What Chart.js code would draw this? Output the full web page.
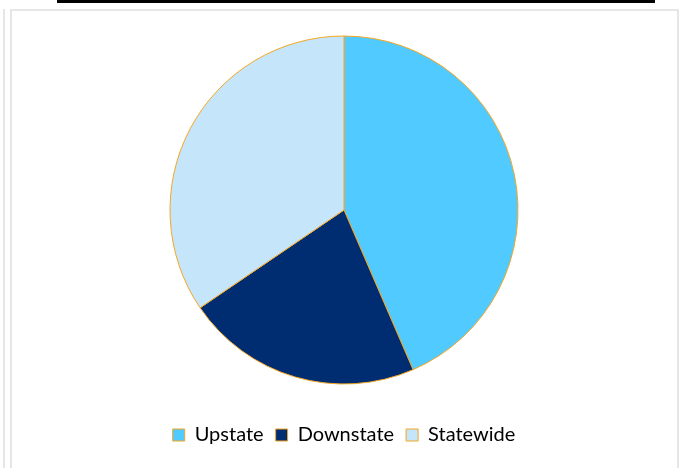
<!DOCTYPE html>
<html>
<head>
<meta charset="utf-8">
<script src="https://cdn.jsdelivr.net/npm/chart.js@4"></script>
<style>
  html, body { margin: 0; padding: 0; background: #fff; }
  body { width: 683px; height: 468px; position: relative; overflow: hidden; }
  #topbar { position: absolute; left: 57px; top: 0; width: 598px; height: 3px; background: #000; }
  #outer { position: absolute; left: 3px; top: 9px; width: 2px; height: 470px; background: #e6e6e6; }
  #frame { position: absolute; left: 10px; top: 9px; width: 665px; height: 470px; border: 2px solid #e6e6e6; }
  #wrap { position: absolute; left: 0; top: 0; width: 683px; height: 468px; }
</style>
</head>
<body>
<div id="topbar"></div>
<div id="outer"></div>
<div id="frame"></div>
<div id="wrap"><canvas id="pie-chart"></canvas></div>
<script>
const regions = ['Upstate', 'Downstate', 'Statewide'];
const shares = [43.5, 22, 34.5];
const sliceColors = ['#51CBFF', '#002D72', '#C5E5FB'];

const pieCtx = document.getElementById('pie-chart').getContext('2d');

new Chart(pieCtx, {
  type: 'pie',
  data: {
    labels: regions,
    datasets: [{
      data: shares,
      backgroundColor: sliceColors,
      borderColor: '#F5A623',
      borderWidth: 1,
      radius: 174
    }]
  },
  options: {
    responsive: true,
    maintainAspectRatio: false,
    animation: false,
    layout: {
      padding: { top: 7, bottom: 13, left: 5, right: 0 }
    },
    plugins: {
      tooltip: { enabled: false },
      legend: {
        position: 'bottom',
        labels: {
          boxWidth: 12,
          boxHeight: 12,
          padding: 12,
          color: '#000',
          font: { family: 'Lato, "Open Sans", sans-serif', size: 20 }
        }
      }
    }
  }
});
</script>
</body>
</html>
